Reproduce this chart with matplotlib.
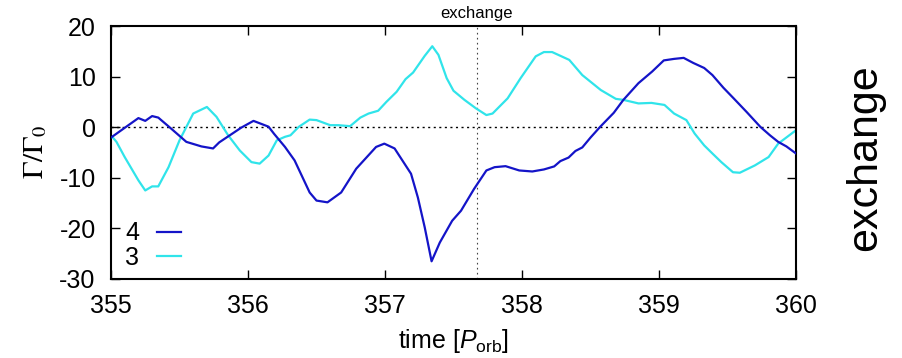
import matplotlib
matplotlib.use("Agg")
import matplotlib.pyplot as plt
import matplotlib.transforms as mtransforms

plt.rcParams["font.family"] = ["Liberation Sans", "DejaVu Sans"]
plt.rcParams["mathtext.fontset"] = "custom"
plt.rcParams["mathtext.rm"] = "Liberation Sans"
plt.rcParams["mathtext.it"] = "Liberation Sans:italic"
plt.rcParams["axes.unicode_minus"] = False

# torque time series (units of Gamma_0) vs time in orbital periods
t4 = [355.0, 355.2, 355.25, 355.30, 355.345, 355.44, 355.55, 355.66, 355.745, 355.79,
      355.95, 356.04, 356.15, 356.19, 356.27, 356.34, 356.45, 356.50, 356.58, 356.68,
      356.79, 356.935, 356.995, 357.07, 357.19, 357.24, 357.29, 357.34, 357.40, 357.49,
      357.555, 357.65, 357.74, 357.80, 357.88, 357.98, 358.075, 358.16, 358.235, 358.28,
      358.34, 358.39, 358.44, 358.50, 358.57, 358.67, 358.74, 358.85, 358.95, 359.035,
      359.11, 359.18, 359.25, 359.33, 359.39, 359.47, 359.545, 359.64, 359.74, 359.81,
      359.87, 359.93, 360.0]
g4 = [-2.05, 1.8, 1.25, 2.2, 1.9, -0.3, -2.9, -3.8, -4.2, -3.0,
      -0.1, 1.25, 0.1, -1.3, -3.9, -6.56, -12.9, -14.5, -14.85, -12.9,
      -8.2, -3.9, -3.25, -4.2, -9.2, -13.9, -19.8, -26.5, -22.8, -18.5,
      -16.5, -12.2, -8.55, -7.9, -7.7, -8.55, -8.75, -8.35, -7.75, -6.7,
      -6.0, -4.7, -4.0, -2.05, 0.06, 2.85, 5.4, 8.7, 11.0, 13.2,
      13.5, 13.7, 12.7, 11.7, 10.3, 7.8, 5.7, 3.0, 0.06, -1.6,
      -2.9, -3.8, -5.2]

t3 = [355.0, 355.04, 355.10, 355.20, 355.25, 355.30, 355.345, 355.42, 355.50, 355.60,
      355.70, 355.77, 355.855, 355.94, 356.025, 356.085, 356.15, 356.21, 356.27, 356.31,
      356.37, 356.45, 356.50, 356.60, 356.66, 356.745, 356.82, 356.88, 356.95, 357.01,
      357.085, 357.15, 357.205, 357.29, 357.345, 357.39, 357.45, 357.50, 357.58, 357.665,
      357.74, 357.785, 357.895, 357.99, 358.10, 358.16, 358.22, 358.345, 358.44, 358.575,
      358.685, 358.74, 358.85, 358.945, 359.04, 359.11, 359.20, 359.26, 359.33, 359.39,
      359.455, 359.54, 359.59, 359.70, 359.80, 359.87, 360.0]
g3 = [-1.6, -2.9, -5.9, -10.5, -12.5, -11.7, -11.7, -7.9, -2.6, 2.7,
      4.0, 2.05, -1.6, -4.6, -6.9, -7.2, -5.6, -2.6, -1.9, -1.6,
      0.06, 1.5, 1.4, 0.4, 0.4, 0.2, 1.9, 2.7, 3.25, 5.0,
      7.0, 9.5, 10.8, 14.1, 16.0, 14.3, 9.7, 7.2, 5.4, 3.7,
      2.4, 2.7, 5.7, 9.7, 14.0, 14.85, 14.85, 13.3, 10.3, 7.35,
      5.6, 5.4, 4.7, 4.8, 4.4, 2.7, 1.4, -1.25, -3.6, -5.2,
      -6.9, -8.9, -9.0, -7.55, -5.9, -3.25, -0.6]

series_labels = ["4", "3"]
x_ticks = [355, 356, 357, 358, 359, 360]
y_ticks = [-30, -20, -10, 0, 10, 20]
t_exchange = 357.67

W, H = 903, 358
fig = plt.figure(figsize=(W / 100, H / 100), dpi=100)
ax = fig.add_axes([111 / W, 1 - 279 / H, (796 - 111) / W, (279 - 26) / H])

ax.axhline(0, color="black", lw=1.0, ls=(0, (1.5, 2.5)), zorder=1)
ax.axvline(t_exchange, color="#444444", lw=0.8, ls=(0, (1.5, 3)), zorder=1)

ax.plot(t4, g4, color="#1414c8", lw=1.6, label=series_labels[0], zorder=3)
ax.plot(t3, g3, color="#30e4ea", lw=1.6, label=series_labels[1], zorder=2)

ax.set_xlim(355, 360)
ax.set_ylim(-30, 20)
ax.set_xticks(x_ticks)
ax.set_yticks(y_ticks)
ax.tick_params(direction="in", length=6.5, width=1.0, top=True, right=True,
               labelsize=18, pad=11)
for s in ax.spines.values():
    s.set_linewidth(1.5)

ax.set_xlabel(r"time [$P_{\rm orb}$]", fontsize=18, labelpad=6)

fig.text(35 / W, 1 - 152 / H, r"$\Gamma/\Gamma_0$", rotation=90, ha="center",
         va="center", fontsize=21, math_fontfamily="stix")

trans = mtransforms.blended_transform_factory(ax.transData, ax.transAxes)
ax.text(t_exchange, 1.018, "exchange", transform=trans, ha="center", va="bottom",
        fontsize=12)

fig.text(865 / W, 1 - 158 / H, "exchange", rotation=90, ha="center", va="center",
         fontsize=31)

ax.legend(loc="lower left", bbox_to_anchor=(0.01, 0.006), frameon=False,
          markerfirst=False, fontsize=18, handlelength=0.95, handletextpad=0.7,
          labelspacing=0.02, borderaxespad=0.0, borderpad=0.3)

fig.savefig("out.png", dpi=100, facecolor="white")
